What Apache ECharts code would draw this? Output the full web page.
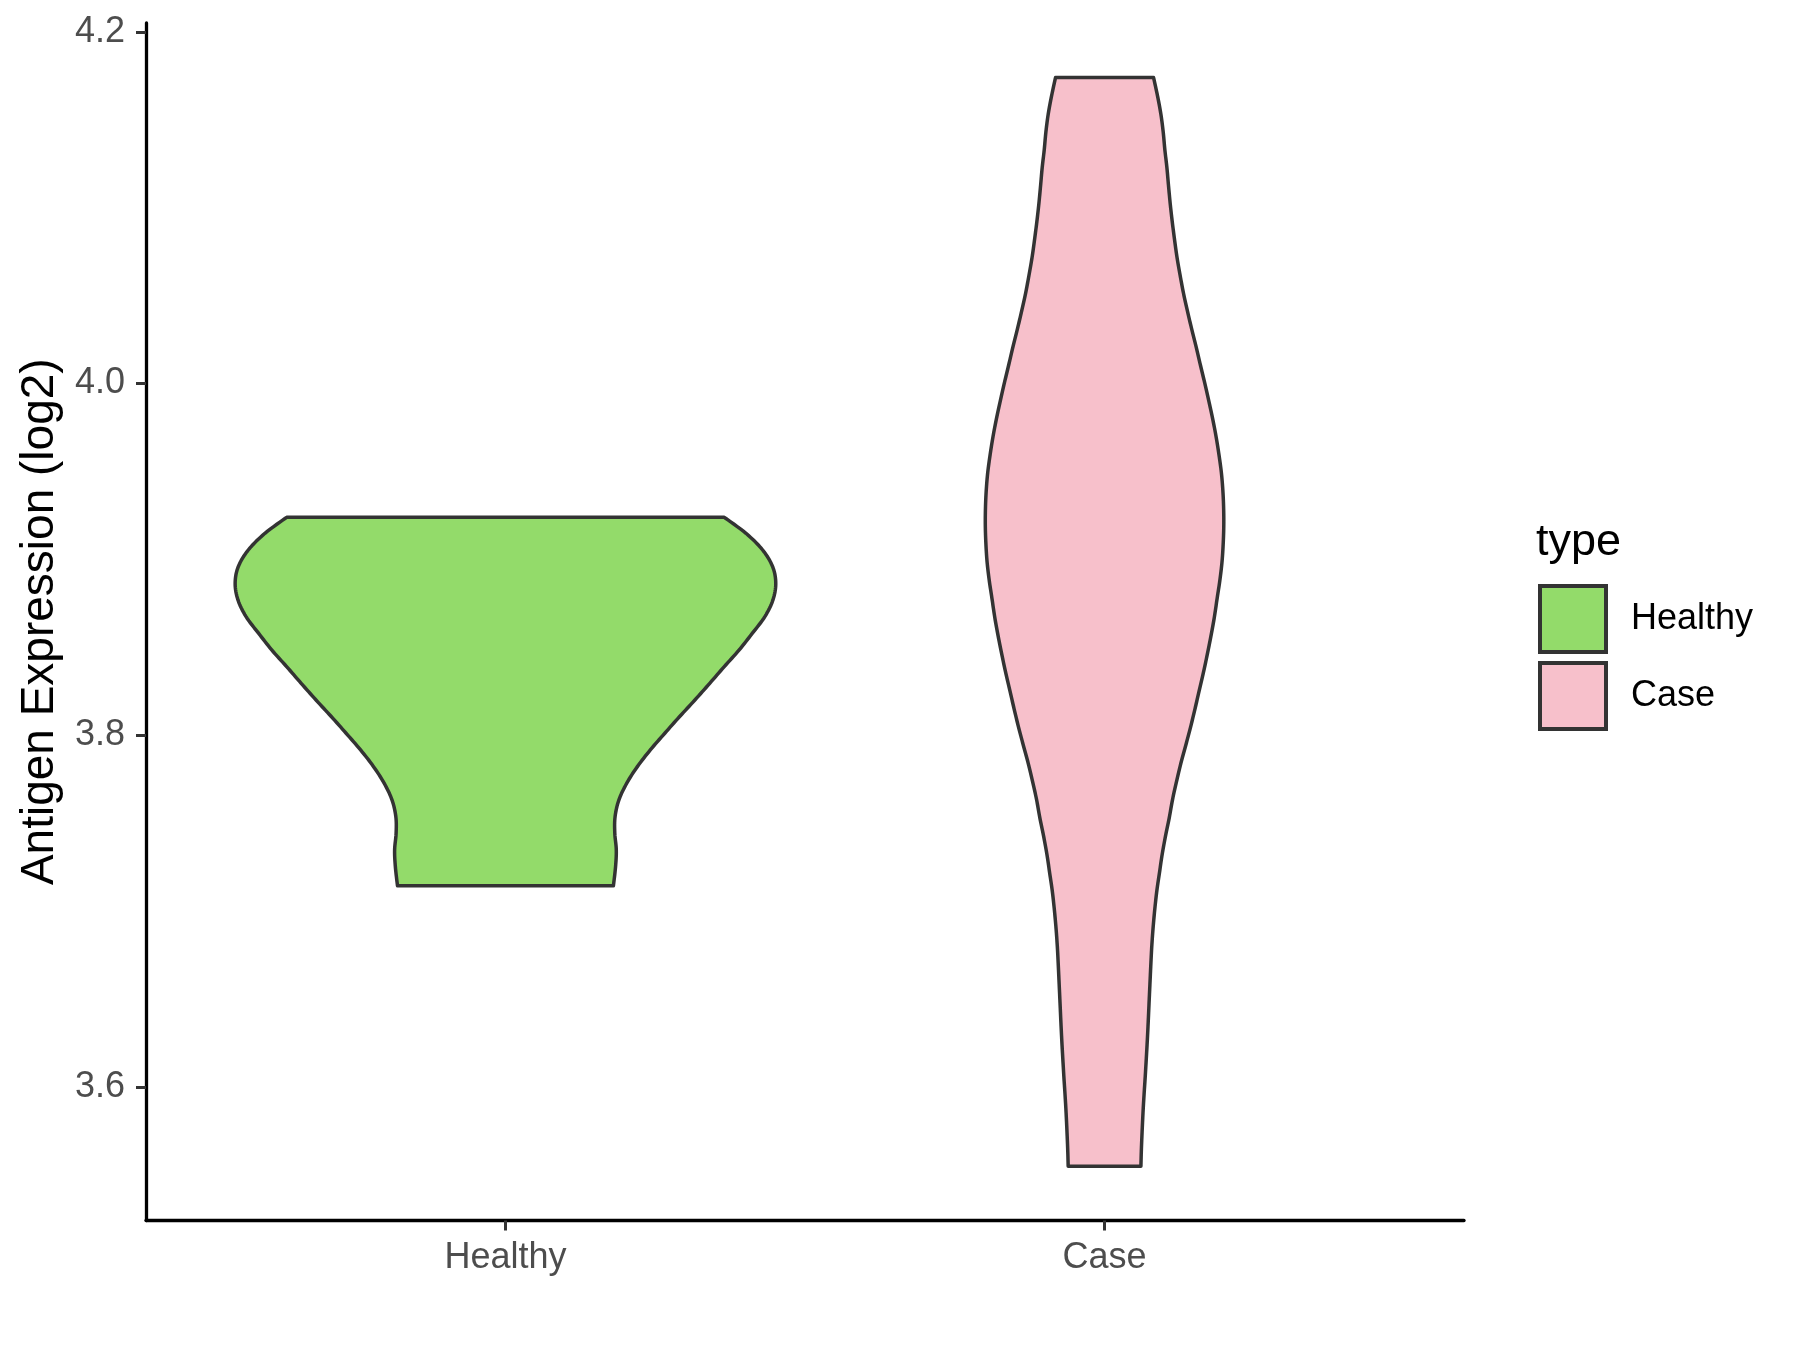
<!DOCTYPE html>
<html>
<head>
<meta charset="utf-8">
<script src="https://cdn.jsdelivr.net/npm/echarts@6/dist/echarts.min.js"></script>
<style>
html, body { margin: 0; padding: 0; background: #ffffff; }
#chart { width: 1800px; height: 1350px; }
</style>
</head>
<body>
<div id="chart"></div>
<script>
// ---- data ----
const categories = ['Healthy', 'Case'];
const yTickValues = [3.6, 3.8, 4.0, 4.2];

// violin outline profiles: value (log2 expression) and half-width (in category units)
const healthyValue = [3.9239, 3.9148, 3.9053, 3.8958, 3.8864, 3.8769, 3.8674, 3.8580, 3.8485, 3.8390,
  3.8295, 3.8200, 3.8106, 3.8011, 3.7916, 3.7821, 3.7727, 3.7632, 3.7537, 3.7443, 3.7348, 3.7253, 3.7143];
const healthyHalfWidth = [0.3652, 0.4015, 0.4293, 0.4460, 0.4512, 0.4465, 0.4330, 0.4122, 0.3902, 0.3653,
  0.3410, 0.3162, 0.2908, 0.2660, 0.2418, 0.2202, 0.2025, 0.1894, 0.1830, 0.1825, 0.1850, 0.1838, 0.1802];

const caseValue = [4.1740, 4.1634, 4.1532, 4.1430, 4.1328, 4.1227, 4.1124, 4.1023, 4.0920, 4.0819,
  4.0717, 4.0614, 4.0513, 4.0410, 4.0309, 4.0207, 4.0105, 4.0003, 3.9901, 3.9799,
  3.9697, 3.9595, 3.9493, 3.9391, 3.9289, 3.9187, 3.9085, 3.8983, 3.8881, 3.8779,
  3.8665, 3.8562, 3.8459, 3.8356, 3.8253, 3.8150, 3.8046, 3.7943, 3.7840, 3.7737,
  3.7634, 3.7530, 3.7427, 3.7324, 3.7221, 3.7118, 3.7015, 3.6911, 3.6808, 3.6705,
  3.6499, 3.6292, 3.6086, 3.5879, 3.5673, 3.5549];
const caseHalfWidth = [0.0818, 0.0885, 0.0940, 0.0979, 0.1007, 0.1041, 0.1068, 0.1096, 0.1130, 0.1168,
  0.1210, 0.1262, 0.1318, 0.1385, 0.1455, 0.1530, 0.1600, 0.1672, 0.1740, 0.1805,
  0.1862, 0.1910, 0.1950, 0.1975, 0.1988, 0.1990, 0.1980, 0.1960, 0.1925, 0.1880,
  0.1830, 0.1775, 0.1715, 0.1650, 0.1580, 0.1510, 0.1436, 0.1356, 0.1274, 0.1202,
  0.1135, 0.1080, 0.1018, 0.0963, 0.0918, 0.0874, 0.0840, 0.0812, 0.0790, 0.0774,
  0.0746, 0.0718, 0.0684, 0.0646, 0.0618, 0.0607];

// ---- styling ----
const FONT = '"Liberation Sans", Arial, Helvetica, sans-serif';
const colors = { Healthy: '#93DB6A', Case: '#F7C0CB' };
const outline = '#333333';

const profiles = [
  { name: 'Healthy', pos: 1, values: healthyValue, half: healthyHalfWidth },
  { name: 'Case', pos: 2, values: caseValue, half: caseHalfWidth }
];

// smooth a list of pixel points with a Catmull-Rom spline (rendering only)
function smoothPixels(pts, steps) {
  const out = [];
  const n = pts.length;
  for (let i = 0; i < n - 1; i++) {
    const p0 = pts[Math.max(i - 1, 0)], p1 = pts[i], p2 = pts[i + 1], p3 = pts[Math.min(i + 2, n - 1)];
    for (let s = 0; s < steps; s++) {
      const t = s / steps, t2 = t * t, t3 = t2 * t;
      const f = k => 0.5 * ((2 * p1[k]) + (-p0[k] + p2[k]) * t +
        (2 * p0[k] - 5 * p1[k] + 4 * p2[k] - p3[k]) * t2 +
        (-p0[k] + 3 * p1[k] - 3 * p2[k] + p3[k]) * t3);
      out.push([f(0), f(1)]);
    }
  }
  out.push(pts[n - 1]);
  return out;
}

function makeRender(p) {
  return function (params, api) {
    const right = [], left = [];
    for (let i = 0; i < p.values.length; i++) {
      right.push(api.coord([p.pos + p.half[i], p.values[i]]));
      left.push(api.coord([p.pos - p.half[i], p.values[i]]));
    }
    const pts = smoothPixels(right, 8).concat(smoothPixels(left, 8).reverse());
    return {
      type: 'polygon',
      shape: { points: pts },
      style: { fill: colors[p.name], stroke: outline, lineWidth: 3.5, lineJoin: 'round' }
    };
  };
}

const chart = echarts.init(document.getElementById('chart'), null, { renderer: 'canvas' });
chart.setOption({
  animation: false,
  backgroundColor: '#ffffff',
  textStyle: { fontFamily: FONT },
  grid: { left: 146, right: 336, top: 23, bottom: 129.5, containLabel: false },
  xAxis: {
    type: 'value', min: 0.4, max: 2.6,
    splitLine: { show: false },
    axisLine: { show: true, onZero: false, lineStyle: { color: '#000000', width: 3.3 } },
    axisTick: { show: true, customValues: [1, 2], length: 10, lineStyle: { color: '#333333', width: 3 } },
    axisLabel: {
      customValues: [1, 2],
      formatter: v => categories[Math.round(v) - 1],
      color: '#4D4D4D', fontSize: 36, fontFamily: FONT, margin: 20
    }
  },
  yAxis: {
    type: 'value', min: 3.524, max: 4.205,
    name: 'Antigen Expression (log2)',
    nameLocation: 'middle', nameGap: 83,
    nameTextStyle: { color: '#000000', fontSize: 46, fontFamily: FONT },
    splitLine: { show: false },
    axisLine: { show: true, onZero: false, lineStyle: { color: '#000000', width: 3.3 } },
    axisTick: { show: true, customValues: yTickValues, length: 10, lineStyle: { color: '#333333', width: 3 } },
    axisLabel: {
      customValues: yTickValues,
      formatter: v => v.toFixed(1),
      color: '#4D4D4D', fontSize: 36, fontFamily: FONT, margin: 21
    }
  },
  legend: {
    orient: 'vertical', left: 1533, top: 579,
    itemWidth: 66, itemHeight: 66, itemGap: 7,
    icon: 'rect',
    textStyle: { fontSize: 36, color: '#000000', fontFamily: FONT, padding: [8, 0, 0, 20] },
    data: [
      { name: 'Healthy', itemStyle: { color: colors.Healthy, borderColor: outline, borderWidth: 4 } },
      { name: 'Case', itemStyle: { color: colors.Case, borderColor: outline, borderWidth: 4 } }
    ]
  },
  graphic: [{
    type: 'text', left: 1536, top: 520,
    style: { text: 'type', fontSize: 45, fill: '#000000', fontFamily: FONT }
  }],
  series: profiles.map(p => ({
    type: 'custom',
    name: p.name,
    itemStyle: { color: colors[p.name], borderColor: outline, borderWidth: 4 },
    renderItem: makeRender(p),
    data: [[p.pos, p.values[0]]],
    clip: false
  }))
});
</script>
</body>
</html>
